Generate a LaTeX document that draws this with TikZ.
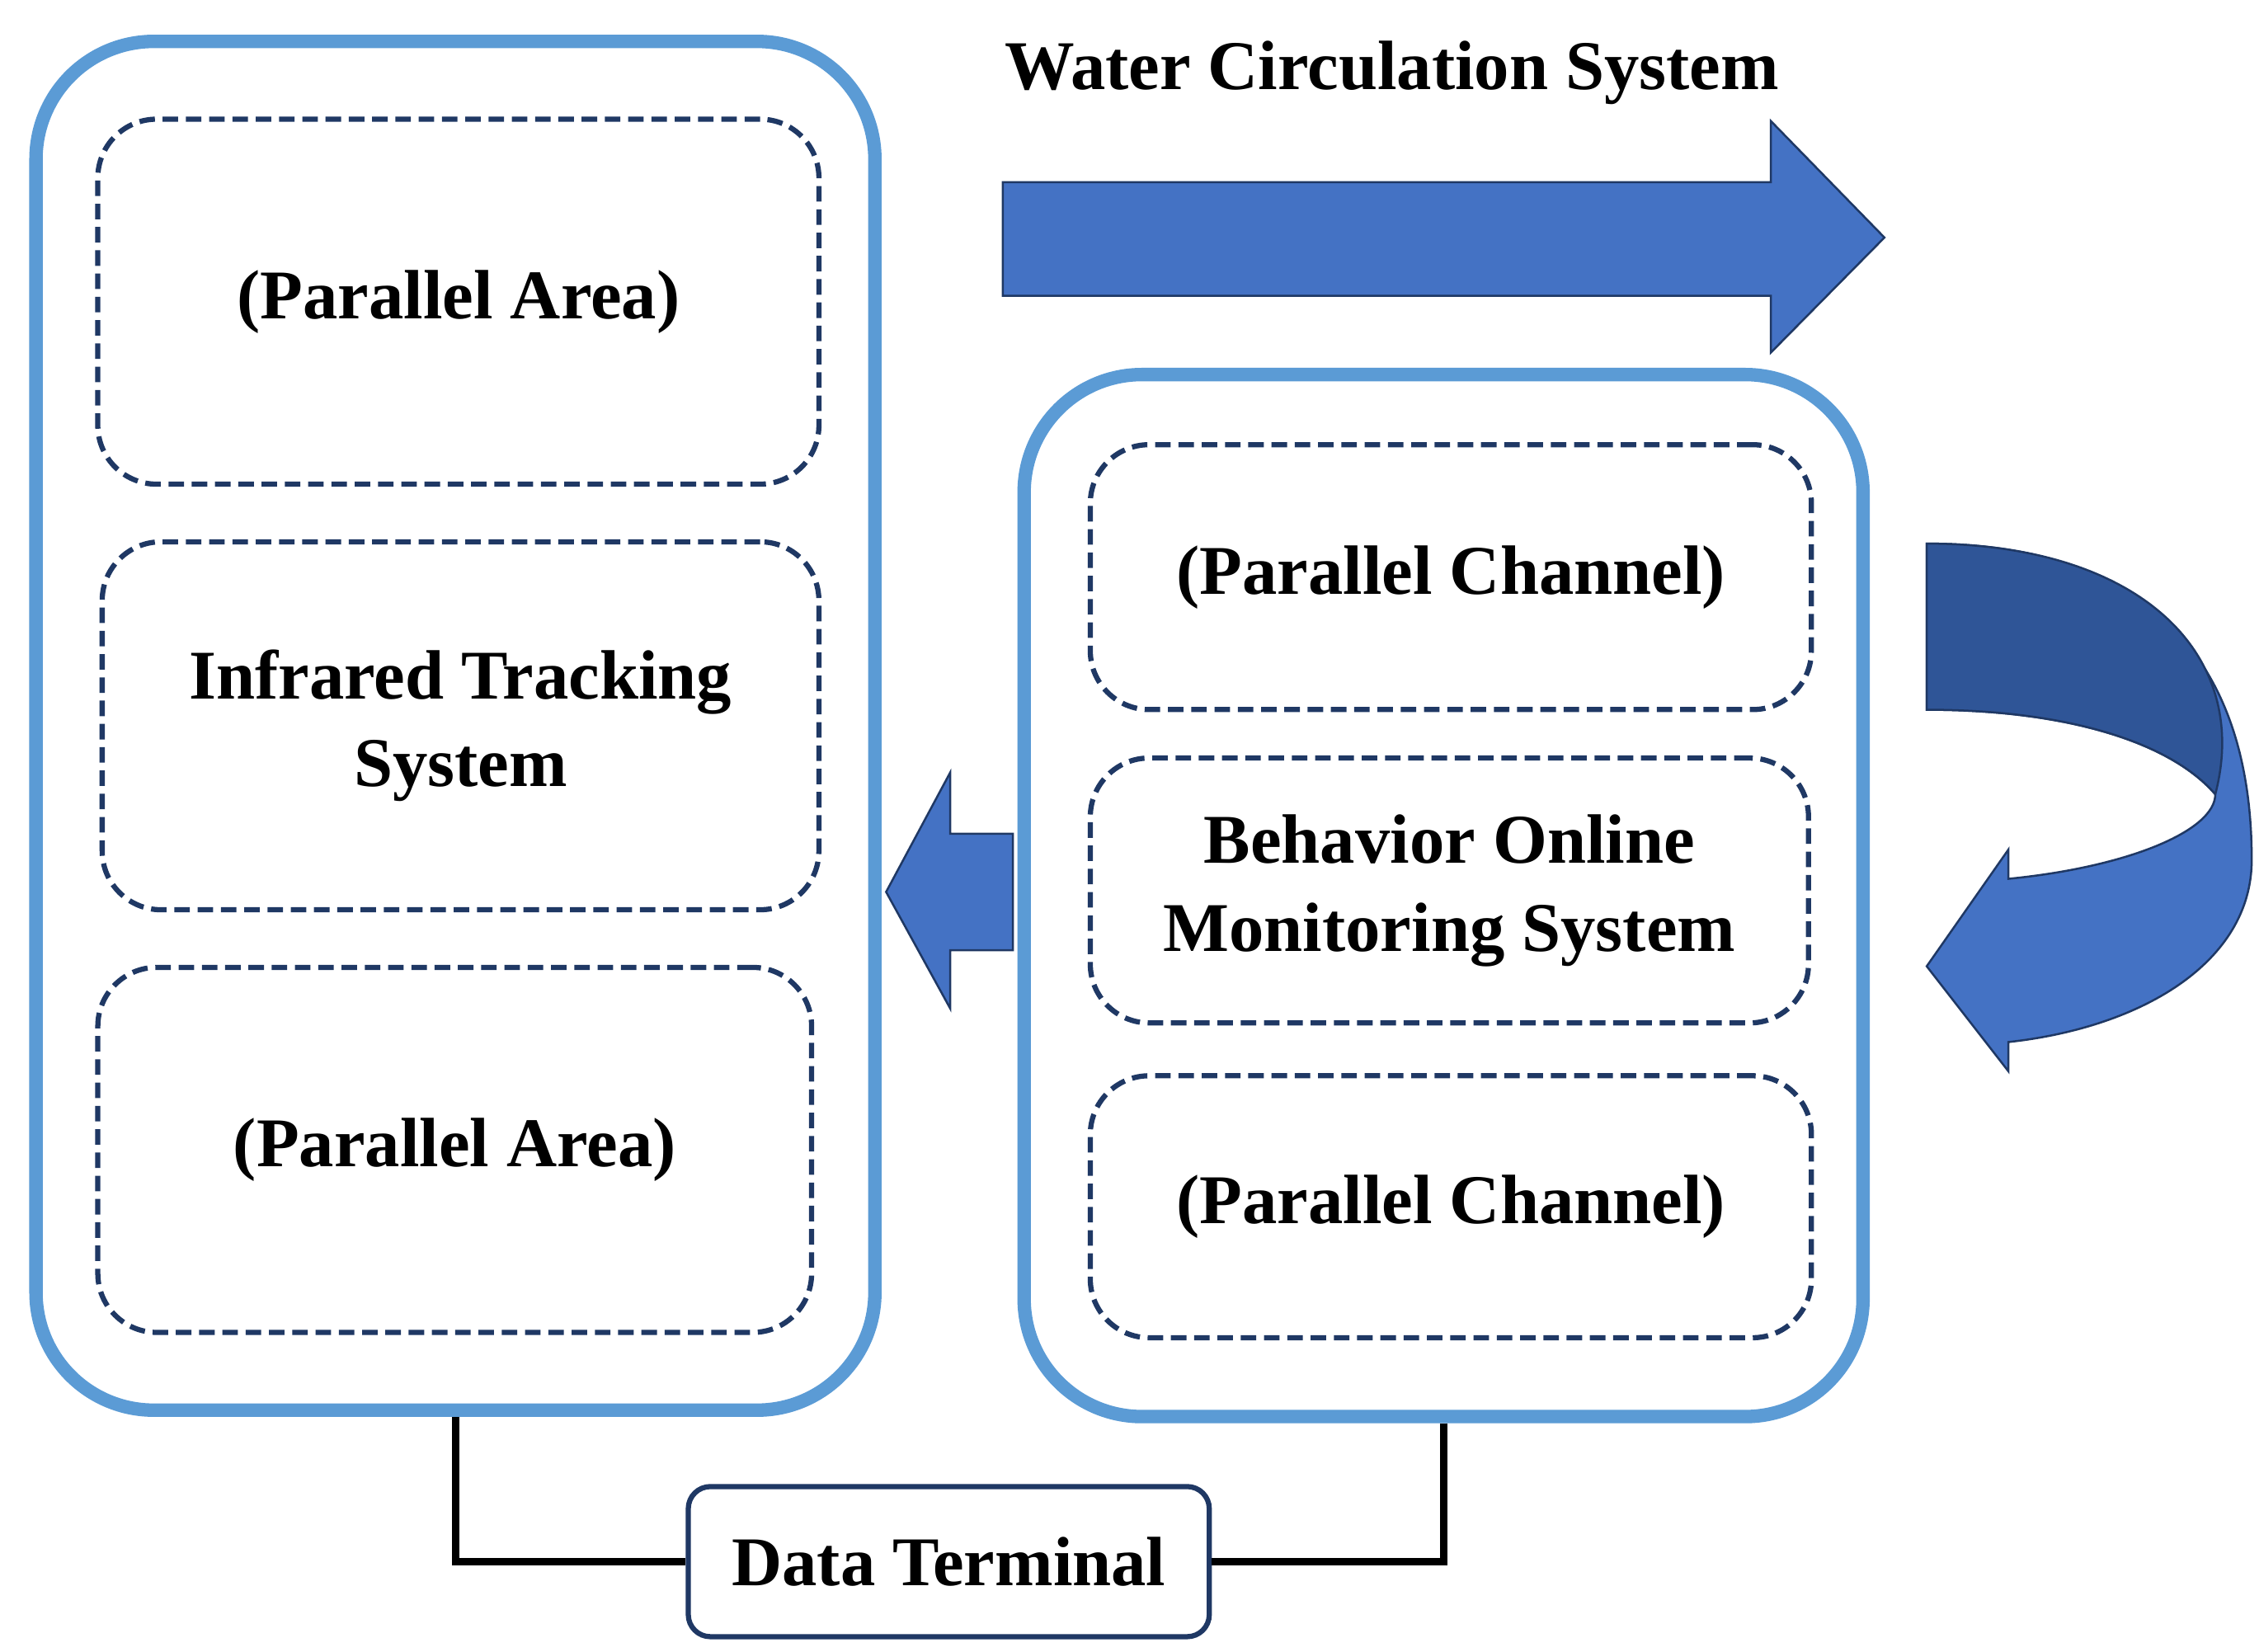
\documentclass[tikz,border=0pt]{standalone}
\usepackage{fontspec}
\setmainfont{Liberation Serif}
\usetikzlibrary{positioning}
\definecolor{frameblue}{HTML}{5B9BD5}
\definecolor{navy}{HTML}{1F3864}
\definecolor{arrowblue}{HTML}{4472C4}
\definecolor{darkblue}{HTML}{2F5597}

\begin{document}
\begin{tikzpicture}[x=0.0099cm,y=-0.0099cm,
  outer/.style={draw=frameblue, line width=2.6pt, rounded corners=0.8cm, inner sep=0pt},
  area/.style={draw=navy, dash pattern=on 3pt off 1.5pt, line width=1pt, rounded corners=0.4cm, align=center, inner sep=0pt, font=\fontsize{13.5}{17}\selectfont\bfseries},
  bigarrow/.style={fill=arrowblue, draw=navy, line width=0.4pt},
  link/.style={draw=black, line width=1.5pt}
]
  \useasboundingbox (0,0) rectangle (1550,1133);
  % Left frame
  \node[outer, minimum width=5.7cm, minimum height=9.3cm] (left) at (312.5,498) {};
  \node[area, minimum width=4.9cm, minimum height=2.48cm] (areaA) at (314.5,207) {(Parallel Area)};
  \node[area, minimum width=4.87cm, minimum height=2.5cm] (track) at (316,498) {Infrared Tracking\\System};
  \node[area, minimum width=4.85cm, minimum height=2.48cm] (areaB) at (312,789) {(Parallel Area)};
  % Right frame
  \node[outer, minimum width=5.7cm, minimum height=7.08cm] (right) at (990.5,614.5) {};
  \node[area, minimum width=4.9cm, minimum height=1.8cm] (chanA) at (995.5,396) {(Parallel Channel)};
  \node[area, minimum width=4.88cm, minimum height=1.8cm] (monitor) at (994.5,611) {Behavior Online\\Monitoring System};
  \node[area, minimum width=4.9cm, minimum height=1.78cm] (chanB) at (995.5,828) {(Parallel Channel)};
  % Terminal
  \node[draw=navy, line width=1pt, rounded corners=0.15cm, minimum width=3.54cm, minimum height=1.02cm,
        font=\fontsize{13.5}{16}\selectfont\bfseries] (terminal) at (651,1071.5) {Data Terminal};
  \draw[link] (left.south) |- (terminal.west);
  \draw[link] (right.south) |- (terminal.east);
  % Water flow
  \node[font=\fontsize{13.5}{16}\selectfont\bfseries] (water) at (955,50) {Water Circulation System};
  \draw[bigarrow] (688,125) -- (1215,125) -- (1215,83) -- (1293,163) -- (1215,242) -- (1215,203) -- (688,203) -- cycle;
  \draw[bigarrow] (695,572) -- (652,572) -- (652,530) -- (608,612) -- (652,692) -- (652,652) -- (695,652) -- cycle;
  \draw[bigarrow] (1322,373) .. controls (1470,373) and (1545,450) .. (1545,590)
    .. controls (1545,660) and (1470,705) .. (1378,715) -- (1378,735) -- (1322,663) -- (1378,583) -- (1378,603)
    .. controls (1460,595) and (1520,570) .. (1520,545)
    .. controls (1490,510) and (1420,487) .. (1322,487) -- cycle;
  \draw[fill=darkblue, draw=navy, line width=0.4pt] (1322,373) .. controls (1470,373) and (1545,450) .. (1520,545)
    .. controls (1490,510) and (1420,487) .. (1322,487) -- cycle;
\end{tikzpicture}
\end{document}
